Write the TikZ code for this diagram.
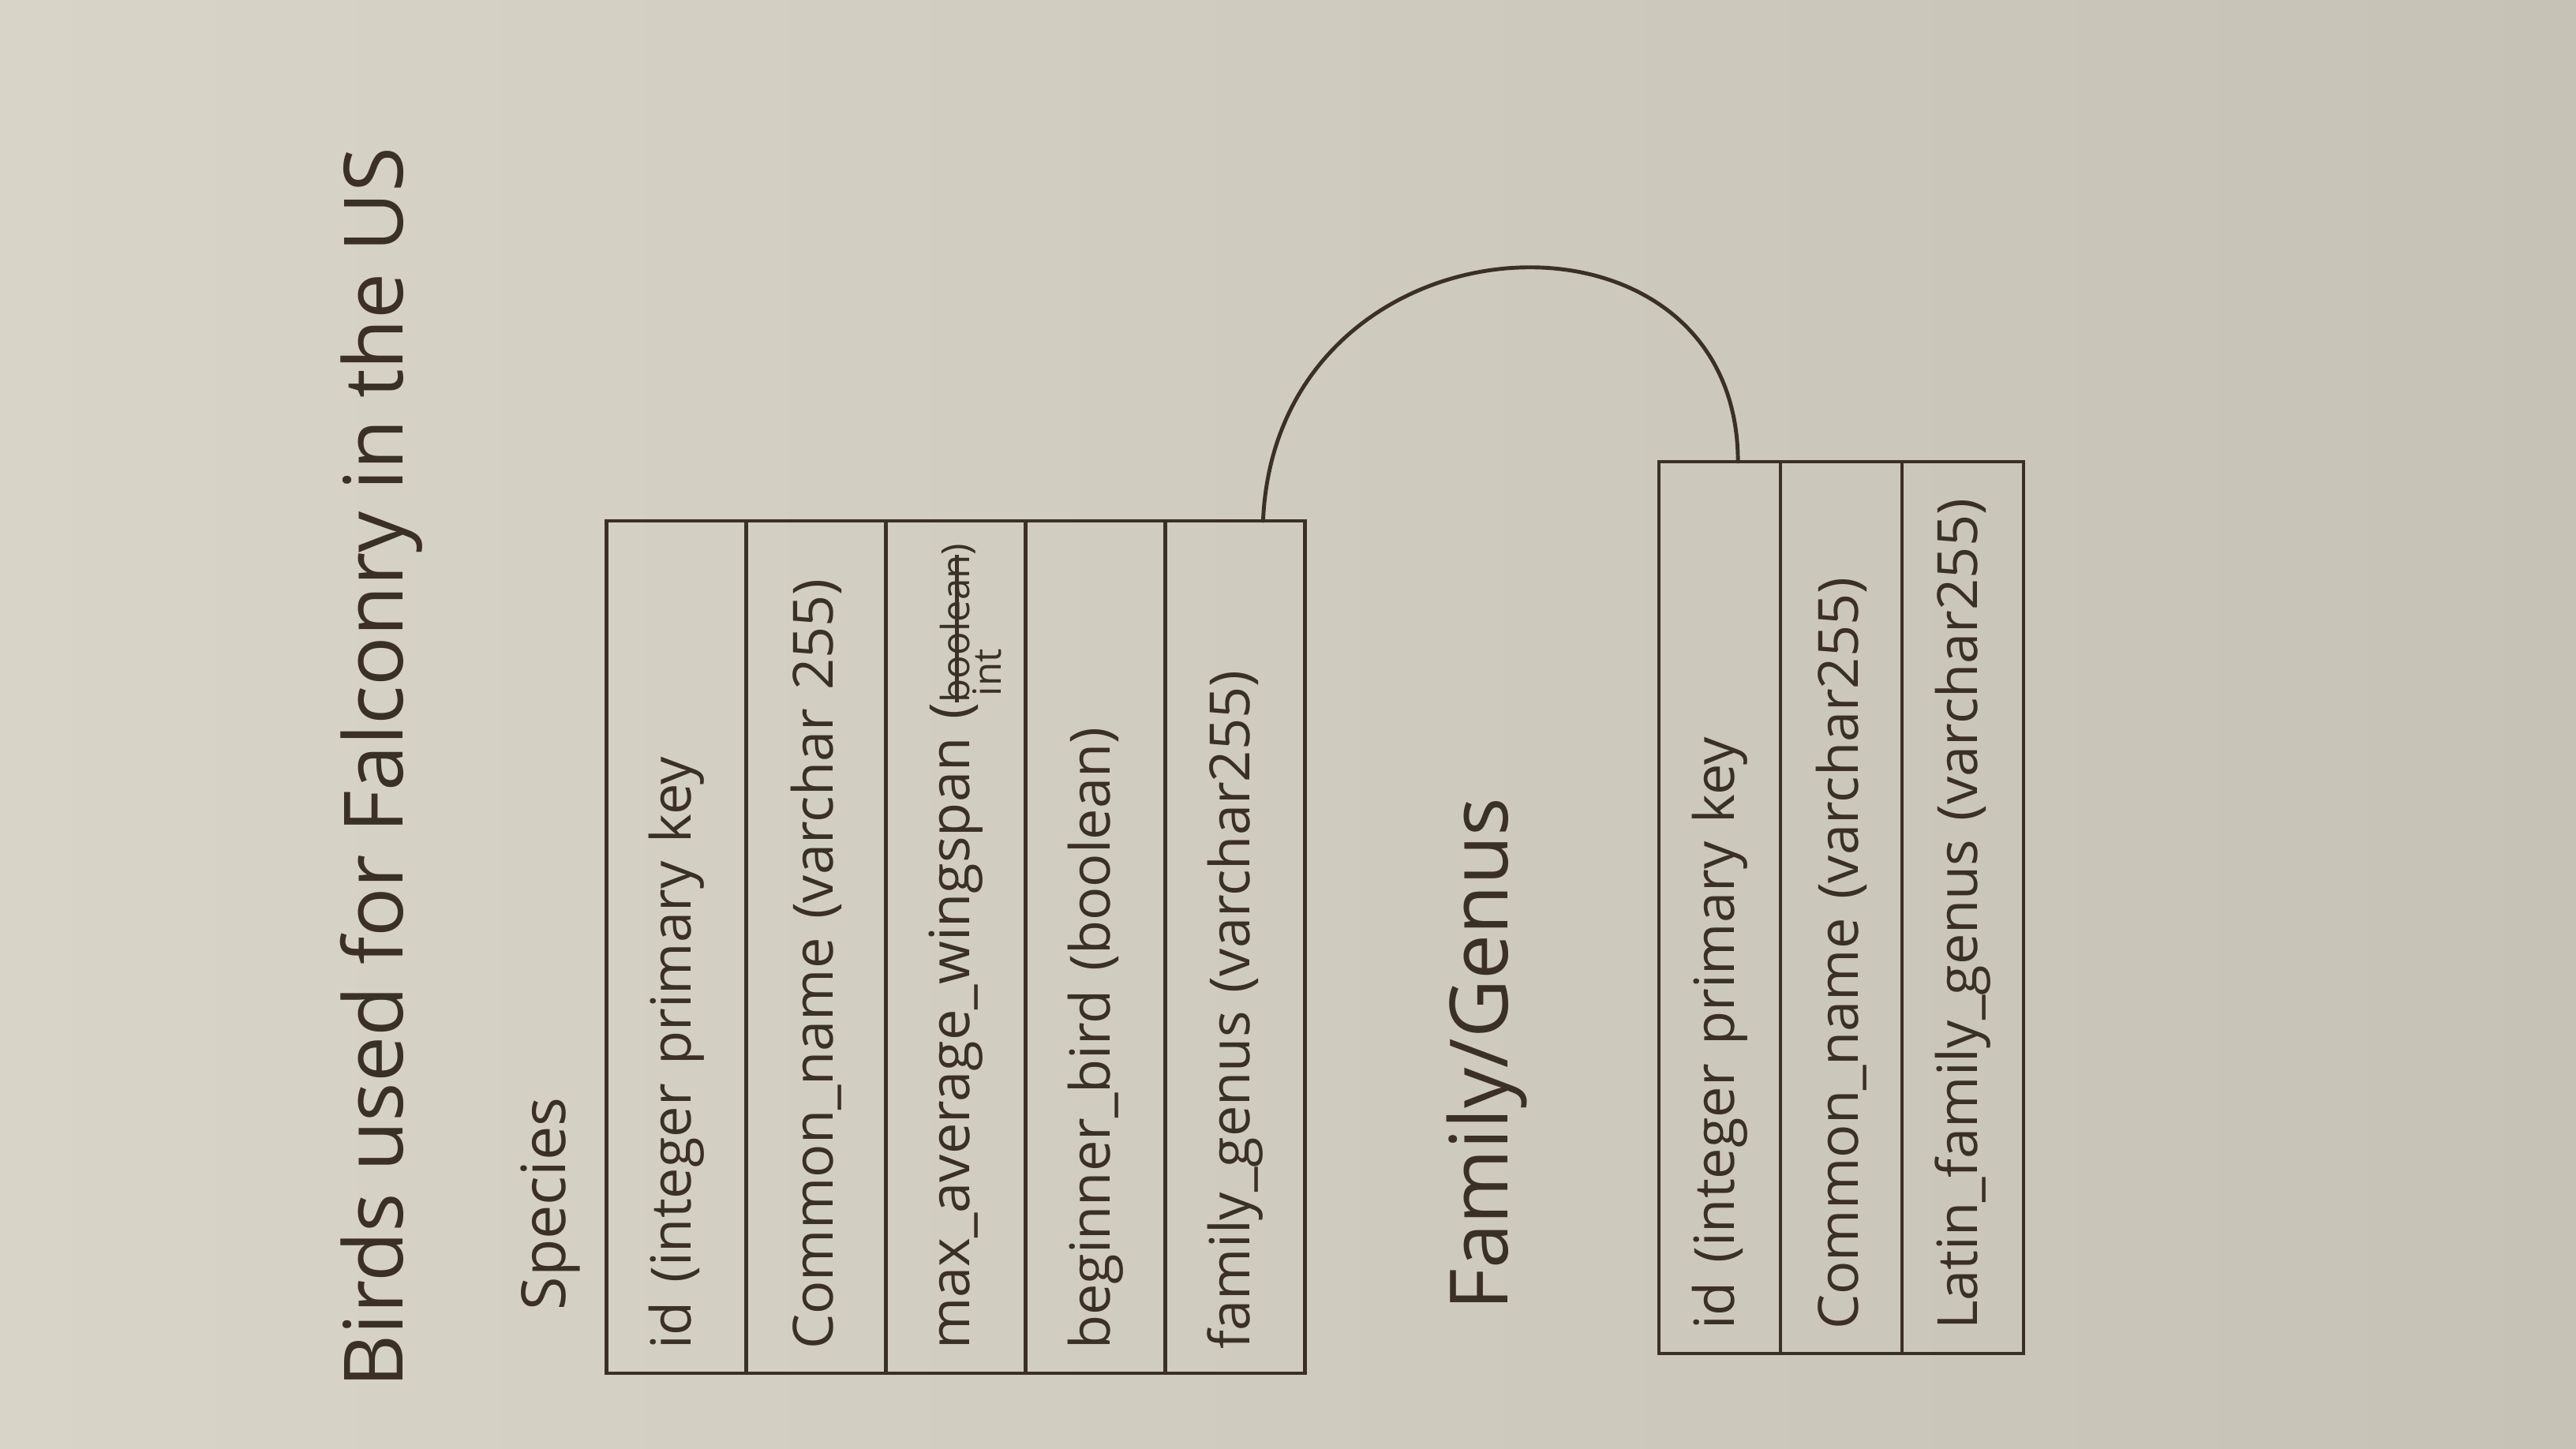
\documentclass[tikz,border=0pt]{standalone}
\usepackage{fontspec}
\setmainfont{Open Sans}
\usetikzlibrary{positioning,calc}
\definecolor{fcInk}{HTML}{3B3026}
\definecolor{fcPaperL}{HTML}{D8D4C8}
\definecolor{fcPaperR}{HTML}{C6C2B6}
\newcommand\fcstrike[1]{\setbox0\hbox{#1}\rlap{\raisebox{0.28em}{\rule{\wd0}{1.2pt}}}\box0}

\begin{document}
\begin{tikzpicture}[
  font=\fontsize{20}{24}\selectfont,
  ink/.style={draw=fcInk,line width=1.4pt},
  fld/.style={ink,rectangle,rotate=90,text=fcInk,minimum width=10.8cm,minimum height=1.77cm,
              text width=10.2cm,align=left,inner xsep=0.3cm,inner ysep=0pt,outer sep=0pt},
  ffld/.style={fld,minimum width=11.2cm,text width=10.7cm,minimum height=1.54cm},
  lbl/.style={rotate=90,anchor=west,text=fcInk,inner sep=0pt},
  link/.style={ink,line cap=round}]

\useasboundingbox (0,0) rectangle (32.64,18.36);
\shade[left color=fcPaperL,right color=fcPaperR] (0,0) rectangle (32.64,18.36);

% headings
\node[lbl,font=\fontsize{29.5}{35}\selectfont] (title) at (4.83,0.77) {Birds used for Falconry in the US};
\node[lbl,font=\fontsize{22}{26}\selectfont] (spname) at (6.97,1.75) {Species};
\node[lbl,font=\fontsize{29}{34}\selectfont] (fmname) at (18.84,1.75) {Family/Genus};

% species table
\node[fld] (sp1) at (8.57,6.36) {id (integer primary key};
\node[fld,anchor=north] (sp2) at (sp1.south) {Common\_name (varchar 255)};
\node[fld,anchor=north] (sp3) at (sp2.south) {\mbox{max\_average\_wingspan (\smash{\fontsize{14}{14}\selectfont
  \begin{tabular}[t]{@{}l@{}}\fcstrike{boolean})\\[-3pt]\,int\end{tabular}}}};
\node[fld,anchor=north] (sp4) at (sp3.south) {beginner\_bird (boolean)};
\node[fld,anchor=north] (sp5) at (sp4.south) {family\_genus (varchar255)};

% family / genus table
\node[ffld] (fm1) at (21.79,6.86) {id (integer primary key};
\node[ffld,anchor=north] (fm2) at (fm1.south) {Common\_name (varchar255)};
\node[ffld,anchor=north] (fm3) at (fm2.south) {Latin\_family\_genus (varchar255)};

% relation
\draw[link] ($(sp5.east)!0.4!(sp5.south east)$) .. controls +(0.17,3.99) and +(0,3.54) .. ($(fm1.east)!0.3!(fm1.south east)$);
\end{tikzpicture}
\end{document}
